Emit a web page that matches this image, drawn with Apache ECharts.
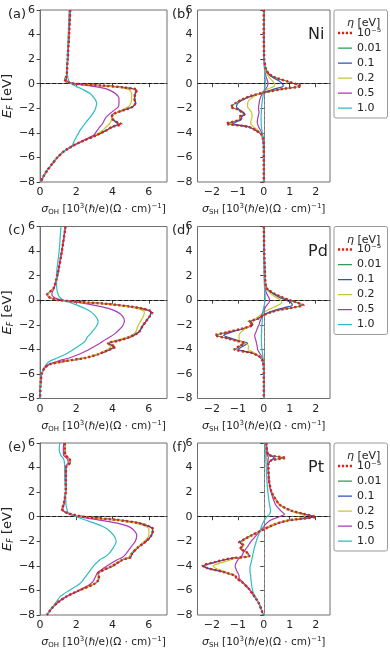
<!DOCTYPE html>
<html>
<head>
<meta charset="utf-8">
<script src="https://cdn.jsdelivr.net/npm/echarts@6/dist/echarts.min.js"></script>
<style>
  html, body { margin: 0; padding: 0; background: #fff; }
  #main { width: 390px; height: 650px; }
</style>
</head>
<body>
<div id="main"></div>
<script>
// 能量网格 (eV) 与各 η 的电导率曲线 (10^3 (ħ/e)(Ω·cm)^-1)
const etaNames = ['10⁻⁵', '0.01', '0.1', '0.2', '0.5', '1.0'];
const etaColors = ['#e0211b', '#2e9a5a', '#2a52c2', '#c7c72b', '#a83bb7', '#2fbcc4'];

// (a) Ni 轨道霍尔
const eNiOH = [6, 4, 2, 1, 0.6, 0.35, 0.15, 0, -0.15, -0.3, -0.5, -0.8, -1.2, -1.6, -1.9, -2.2, -2.5, -2.8, -3.1, -3.3, -3.5, -3.8, -4.2, -4.6, -5.0, -5.5, -6.0, -6.5, -7.0, -7.5, -8];
const niOH_1e5 = [1.66, 1.60, 1.52, 1.48, 1.45, 1.35, 1.45, 1.90, 3.40, 4.60, 5.35, 5.25, 5.20, 5.25, 5.10, 4.50, 4.00, 3.95, 4.20, 4.50, 4.00, 3.65, 3.10, 2.45, 1.88, 1.32, 0.95, 0.68, 0.42, 0.20, 0.03];
const niOH_001 = [1.66, 1.60, 1.52, 1.48, 1.45, 1.35, 1.45, 1.90, 3.40, 4.60, 5.33, 5.25, 5.20, 5.25, 5.10, 4.50, 4.00, 3.95, 4.20, 4.42, 4.00, 3.65, 3.10, 2.45, 1.88, 1.32, 0.95, 0.68, 0.42, 0.20, 0.03];
const niOH_01 = [1.66, 1.60, 1.52, 1.48, 1.45, 1.36, 1.45, 1.90, 3.35, 4.55, 5.28, 5.25, 5.22, 5.28, 5.05, 4.50, 4.00, 3.95, 4.15, 4.30, 4.00, 3.65, 3.10, 2.45, 1.88, 1.32, 0.95, 0.68, 0.42, 0.20, 0.03];
const niOH_02 = [1.66, 1.60, 1.52, 1.48, 1.45, 1.37, 1.46, 1.90, 3.25, 4.35, 4.92, 5.05, 5.05, 5.00, 4.85, 4.40, 4.05, 3.95, 3.90, 3.80, 3.65, 3.45, 3.00, 2.42, 1.86, 1.32, 0.95, 0.68, 0.42, 0.20, 0.03];
const niOH_05 = [1.65, 1.59, 1.52, 1.48, 1.47, 1.45, 1.55, 1.85, 2.70, 3.30, 3.80, 4.15, 4.35, 4.35, 4.30, 4.05, 3.80, 3.60, 3.50, 3.42, 3.30, 3.15, 2.95, 2.40, 1.86, 1.32, 0.95, 0.68, 0.42, 0.20, 0.03];
const niOH_10 = [1.60, 1.55, 1.50, 1.50, 1.52, 1.55, 1.62, 1.72, 1.90, 2.10, 2.40, 2.75, 3.00, 3.12, 3.08, 3.00, 2.88, 2.72, 2.55, 2.45, 2.35, 2.20, 2.05, 1.90, 1.78, 1.32, 0.95, 0.68, 0.42, 0.20, 0.03];

// (b) Ni 自旋霍尔
const eNiSH = [6, 4, 2, 1.2, 0.8, 0.5, 0.2, 0, -0.2, -0.4, -0.7, -1.0, -1.3, -1.6, -1.9, -2.1, -2.3, -2.5, -2.7, -2.9, -3.1, -3.25, -3.5, -3.8, -4.1, -4.5, -5, -6, -7, -8];
const niSH_1e5 = [0.00, 0.00, 0.02, 0.08, 0.20, 0.45, 0.90, 1.20, 1.45, 0.80, 0.05, -0.50, -0.85, -1.10, -1.28, -1.00, -0.85, -0.75, -0.95, -0.90, -1.20, -1.45, -0.60, -0.30, -0.10, -0.03, 0.00, 0.00, 0.00, 0.00];
const niSH_001 = [0.00, 0.00, 0.02, 0.08, 0.20, 0.45, 0.88, 1.18, 1.40, 0.80, 0.05, -0.50, -0.85, -1.10, -1.25, -1.00, -0.85, -0.75, -0.93, -0.90, -1.18, -1.40, -0.60, -0.30, -0.10, -0.03, 0.00, 0.00, 0.00, 0.00];
const niSH_01 = [0.00, 0.00, 0.02, 0.08, 0.18, 0.35, 0.60, 0.72, 0.75, 0.45, 0.00, -0.45, -0.80, -1.00, -1.05, -0.95, -0.80, -0.72, -0.85, -0.85, -1.05, -1.20, -0.60, -0.30, -0.10, -0.03, 0.00, 0.00, 0.00, 0.00];
const niSH_02 = [0.00, 0.00, 0.02, 0.06, 0.12, 0.22, 0.35, 0.42, 0.40, 0.20, -0.10, -0.35, -0.55, -0.62, -0.62, -0.55, -0.48, -0.45, -0.45, -0.48, -0.50, -0.50, -0.40, -0.22, -0.08, -0.02, 0.00, 0.00, 0.00, 0.00];
const niSH_05 = [0.00, 0.00, 0.01, 0.03, 0.06, 0.10, 0.15, 0.16, 0.14, 0.08, -0.02, -0.10, -0.15, -0.18, -0.20, -0.20, -0.18, -0.20, -0.22, -0.24, -0.25, -0.24, -0.20, -0.12, -0.05, -0.02, 0.00, 0.00, 0.00, 0.00];
const niSH_10 = [0.00, 0.01, 0.02, 0.03, 0.04, 0.05, 0.06, 0.06, 0.05, 0.03, 0.00, -0.03, -0.05, -0.07, -0.08, -0.09, -0.09, -0.10, -0.10, -0.10, -0.10, -0.10, -0.09, -0.07, -0.05, -0.03, -0.02, -0.01, 0.00, 0.00];

// (c) Pd 轨道霍尔
const ePdOH = [6, 4, 2, 1, 0.7, 0.45, 0.2, 0, -0.15, -0.3, -0.5, -0.7, -0.95, -1.3, -1.7, -2.1, -2.5, -2.7, -3.0, -3.3, -3.5, -3.8, -4.1, -4.4, -4.7, -4.95, -5.2, -5.5, -6.0, -6.5, -7, -8];
const pdOH_1e5 = [1.40, 1.20, 0.95, 0.75, 0.55, 0.38, 0.55, 1.05, 2.30, 3.70, 4.90, 5.70, 6.20, 6.05, 5.85, 5.65, 5.50, 5.35, 4.95, 4.30, 3.75, 4.15, 3.70, 3.20, 2.50, 1.40, 0.55, 0.25, 0.09, 0.04, 0.02, 0.00];
const pdOH_001 = [1.40, 1.20, 0.95, 0.75, 0.55, 0.38, 0.55, 1.05, 2.30, 3.70, 4.90, 5.70, 6.15, 6.05, 5.85, 5.65, 5.50, 5.35, 4.95, 4.30, 3.75, 4.12, 3.70, 3.20, 2.50, 1.40, 0.55, 0.25, 0.09, 0.04, 0.02, 0.00];
const pdOH_01 = [1.40, 1.20, 0.95, 0.75, 0.55, 0.39, 0.55, 1.05, 2.28, 3.65, 4.85, 5.65, 6.10, 6.05, 5.85, 5.65, 5.50, 5.35, 4.95, 4.25, 3.75, 4.05, 3.70, 3.20, 2.50, 1.40, 0.55, 0.25, 0.09, 0.04, 0.02, 0.00];
const pdOH_02 = [1.40, 1.20, 0.95, 0.75, 0.56, 0.42, 0.58, 1.05, 2.20, 3.50, 4.70, 5.45, 5.75, 5.70, 5.55, 5.40, 5.30, 5.20, 4.85, 4.10, 3.70, 3.90, 3.60, 3.15, 2.48, 1.40, 0.55, 0.25, 0.09, 0.04, 0.02, 0.00];
const pdOH_05 = [1.40, 1.20, 0.95, 0.78, 0.68, 0.65, 0.80, 1.20, 1.90, 2.60, 3.30, 3.85, 4.25, 4.55, 4.65, 4.55, 4.30, 4.15, 3.85, 3.50, 3.30, 2.95, 2.60, 2.15, 1.60, 1.00, 0.50, 0.25, 0.09, 0.04, 0.02, 0.00];
const pdOH_10 = [1.15, 1.05, 0.90, 0.92, 0.95, 1.00, 1.10, 1.30, 1.55, 1.85, 2.20, 2.50, 2.80, 3.05, 3.20, 3.12, 2.90, 2.80, 2.60, 2.50, 2.35, 2.05, 1.75, 1.40, 0.95, 0.55, 0.35, 0.22, 0.09, 0.04, 0.02, 0.00];

// (d) Pd 自旋霍尔
const ePdSH = [6, 4, 2, 1, 0.5, 0.2, 0, -0.2, -0.4, -0.6, -0.8, -1.0, -1.2, -1.5, -1.75, -2.0, -2.3, -2.6, -2.85, -3.1, -3.3, -3.5, -3.75, -4.0, -4.3, -4.6, -5, -6, -7, -8];
const pdSH_1e5 = [0.00, 0.02, 0.05, 0.10, 0.43, 0.75, 1.00, 1.30, 1.53, 1.10, 0.56, 0.25, 0.00, -0.22, -0.58, -0.42, -0.80, -1.40, -1.88, -1.40, -1.05, -0.75, -0.95, -1.13, -0.45, -0.16, -0.03, 0.00, 0.00, 0.00];
const pdSH_001 = [0.00, 0.02, 0.05, 0.10, 0.43, 0.74, 0.98, 1.28, 1.50, 1.10, 0.56, 0.25, 0.00, -0.22, -0.56, -0.42, -0.80, -1.38, -1.85, -1.40, -1.05, -0.74, -0.93, -1.10, -0.45, -0.16, -0.03, 0.00, 0.00, 0.00];
const pdSH_01 = [0.00, 0.02, 0.05, 0.10, 0.38, 0.62, 0.85, 1.05, 1.10, 0.80, 0.45, 0.18, -0.02, -0.22, -0.50, -0.42, -0.75, -1.25, -1.55, -1.25, -0.95, -0.62, -0.80, -1.00, -0.45, -0.16, -0.03, 0.00, 0.00, 0.00];
const pdSH_02 = [0.00, 0.02, 0.04, 0.08, 0.28, 0.50, 0.65, 0.70, 0.55, 0.35, 0.15, 0.00, -0.12, -0.30, -0.40, -0.50, -0.70, -0.88, -0.95, -0.95, -0.92, -0.70, -0.58, -0.60, -0.35, -0.12, -0.02, 0.00, 0.00, 0.00];
const pdSH_05 = [0.00, 0.01, 0.02, 0.04, 0.12, 0.20, 0.22, 0.20, 0.12, 0.06, 0.00, -0.04, -0.07, -0.10, -0.15, -0.18, -0.25, -0.30, -0.35, -0.33, -0.30, -0.28, -0.25, -0.24, -0.16, -0.07, -0.02, 0.00, 0.00, 0.00];
const pdSH_10 = [0.00, 0.01, 0.02, 0.03, 0.05, 0.06, 0.05, 0.04, 0.02, 0.00, -0.02, -0.03, -0.04, -0.05, -0.06, -0.07, -0.08, -0.08, -0.09, -0.09, -0.09, -0.09, -0.08, -0.07, -0.05, -0.03, -0.02, 0.00, 0.00, 0.00];

// (e) Pt 轨道霍尔
const ePtOH = [6, 5.5, 5.0, 4.7, 4.4, 4.1, 3, 2, 1, 0.6, 0.3, 0, -0.25, -0.5, -0.75, -1.0, -1.5, -2.0, -2.5, -3.0, -3.3, -3.5, -4.0, -4.3, -4.6, -4.9, -5.2, -5.5, -6.0, -6.5, -7.0, -7.5, -8];
const ptOH_1e5 = [1.36, 1.36, 1.40, 1.62, 1.66, 1.45, 1.42, 1.41, 1.30, 1.20, 1.50, 2.40, 4.20, 5.40, 5.95, 6.25, 6.15, 5.85, 5.40, 5.07, 5.00, 4.55, 4.00, 3.55, 3.20, 3.25, 3.20, 2.95, 2.15, 1.45, 0.95, 0.62, 0.37];
const ptOH_001 = [1.36, 1.36, 1.40, 1.62, 1.66, 1.45, 1.42, 1.41, 1.30, 1.20, 1.50, 2.40, 4.20, 5.40, 5.95, 6.22, 6.15, 5.85, 5.40, 5.07, 5.00, 4.55, 4.00, 3.55, 3.20, 3.25, 3.20, 2.95, 2.15, 1.45, 0.95, 0.62, 0.37];
const ptOH_01 = [1.36, 1.36, 1.40, 1.61, 1.65, 1.45, 1.42, 1.41, 1.30, 1.20, 1.50, 2.40, 4.15, 5.35, 5.92, 6.20, 6.15, 5.85, 5.40, 5.07, 4.98, 4.55, 4.00, 3.55, 3.20, 3.24, 3.20, 2.95, 2.15, 1.45, 0.95, 0.62, 0.37];
const ptOH_02 = [1.36, 1.36, 1.40, 1.60, 1.64, 1.45, 1.42, 1.41, 1.30, 1.21, 1.50, 2.35, 4.00, 5.20, 5.75, 6.00, 6.00, 5.75, 5.35, 5.00, 4.90, 4.50, 3.95, 3.50, 3.18, 3.20, 3.15, 2.92, 2.15, 1.45, 0.95, 0.62, 0.37];
const ptOH_05 = [1.30, 1.28, 1.30, 1.50, 1.55, 1.42, 1.42, 1.41, 1.32, 1.25, 1.45, 2.10, 3.20, 4.20, 4.80, 5.10, 5.33, 5.25, 5.00, 4.75, 4.55, 4.25, 3.70, 3.40, 3.15, 3.05, 2.95, 2.75, 2.15, 1.45, 0.95, 0.62, 0.37];
const ptOH_10 = [1.09, 1.05, 1.14, 1.30, 1.34, 1.35, 1.36, 1.40, 1.43, 1.48, 1.56, 2.00, 2.45, 2.95, 3.40, 3.70, 4.05, 4.20, 4.05, 3.80, 3.55, 3.30, 2.95, 2.80, 2.65, 2.50, 2.35, 2.15, 1.60, 1.10, 0.87, 0.60, 0.37];

// (f) Pt 自旋霍尔
const ePtSH = [6, 5.3, 5.0, 4.8, 4.6, 4.3, 3, 2, 1, 0.5, 0.2, 0, -0.3, -0.6, -1.0, -1.5, -1.8, -2.1, -2.3, -2.6, -2.9, -3.2, -3.4, -3.7, -4.0, -4.2, -4.5, -4.8, -5.0, -5.3, -5.8, -6.3, -7, -7.5, -8];
const ptSH_1e5 = [0.10, 0.13, 0.20, 0.85, 0.30, 0.18, 0.20, 0.30, 0.60, 1.05, 1.60, 2.00, 0.95, 0.45, 0.03, -0.45, -0.72, -0.95, -0.80, -0.90, -0.65, -0.55, -1.30, -1.90, -2.35, -2.15, -1.55, -1.10, -1.05, -0.85, -0.60, -0.42, -0.20, -0.10, -0.02];
const ptSH_001 = [0.10, 0.13, 0.20, 0.78, 0.30, 0.18, 0.20, 0.30, 0.60, 1.05, 1.58, 1.98, 0.95, 0.45, 0.03, -0.45, -0.72, -0.93, -0.80, -0.90, -0.65, -0.55, -1.28, -1.88, -2.32, -2.15, -1.55, -1.10, -1.05, -0.85, -0.60, -0.42, -0.20, -0.10, -0.02];
const ptSH_01 = [0.10, 0.13, 0.25, 0.40, 0.28, 0.18, 0.20, 0.30, 0.60, 1.04, 1.55, 1.95, 0.95, 0.45, 0.03, -0.45, -0.70, -0.92, -0.80, -0.88, -0.65, -0.55, -1.25, -1.85, -2.35, -2.15, -1.55, -1.10, -1.05, -0.85, -0.60, -0.42, -0.20, -0.10, -0.02];
const ptSH_02 = [0.10, 0.12, 0.10, 0.08, 0.15, 0.17, 0.20, 0.30, 0.58, 1.00, 1.45, 1.62, 0.90, 0.40, 0.00, -0.42, -0.68, -0.85, -0.75, -0.85, -0.68, -0.60, -1.10, -1.55, -1.95, -1.85, -1.45, -1.10, -1.05, -0.85, -0.60, -0.42, -0.20, -0.10, -0.02];
const ptSH_05 = [0.10, 0.12, 0.14, 0.18, 0.16, 0.16, 0.20, 0.28, 0.45, 0.65, 0.80, 0.60, 0.25, 0.08, -0.08, -0.28, -0.40, -0.52, -0.58, -0.68, -0.78, -0.85, -0.95, -1.05, -1.10, -1.08, -1.02, -0.95, -0.95, -0.82, -0.60, -0.42, -0.20, -0.10, -0.02];
const ptSH_10 = [0.05, 0.06, 0.08, 0.08, 0.08, 0.09, 0.12, 0.16, 0.22, 0.26, 0.22, 0.12, 0.02, -0.05, -0.12, -0.20, -0.26, -0.30, -0.33, -0.37, -0.40, -0.43, -0.45, -0.48, -0.52, -0.53, -0.53, -0.50, -0.50, -0.48, -0.45, -0.38, -0.20, -0.10, -0.03];

const panels = [
  { e: eNiOH, vals: [niOH_1e5, niOH_001, niOH_01, niOH_02, niOH_05, niOH_10], sh: false, tag: '(a)' },
  { e: eNiSH, vals: [niSH_1e5, niSH_001, niSH_01, niSH_02, niSH_05, niSH_10], sh: true, tag: '(b)', metal: 'Ni' },
  { e: ePdOH, vals: [pdOH_1e5, pdOH_001, pdOH_01, pdOH_02, pdOH_05, pdOH_10], sh: false, tag: '(c)' },
  { e: ePdSH, vals: [pdSH_1e5, pdSH_001, pdSH_01, pdSH_02, pdSH_05, pdSH_10], sh: true, tag: '(d)', metal: 'Pd' },
  { e: ePtOH, vals: [ptOH_1e5, ptOH_001, ptOH_01, ptOH_02, ptOH_05, ptOH_10], sh: false, tag: '(e)' },
  { e: ePtSH, vals: [ptSH_1e5, ptSH_001, ptSH_01, ptSH_02, ptSH_05, ptSH_10], sh: true, tag: '(f)', metal: 'Pt' }
];

const FONT = 'DejaVu Sans';
const rowTop = [10, 226.5, 443];
const minus = v => String(v).replace('-', '\u2212');

// 图例图标：细实线 / 红色点线（外加一条几乎不可见的竖线撑开包围盒）
const solidIcon = 'path://M0,0h0.01v12h-0.01z M0,5.4h14v1.3h-14z';
const dotIcon = 'path://M0,0h0.01v12h-0.01z M0,4.8h2.2v2.4h-2.2z M3.9,4.8h2.2v2.4h-2.2z M7.8,4.8h2.2v2.4h-2.2z M11.8,4.8h2.2v2.4h-2.2z';

const grids = [], xAxes = [], yAxes = [], series = [], titles = [], legends = [];

panels.forEach((p, i) => {
  const col = i % 2, row = Math.floor(i / 2);
  const left = col === 0 ? 34 : 197.5;
  grids.push({ left, top: rowTop[row], width: col === 0 ? 133 : 132.5, height: 172,
    show: true, borderColor: '#6f6f6f', borderWidth: 1, containLabel: false });

  const ticks = p.sh ? [-2, -1, 0, 1, 2] : [0, 2, 4, 6];
  xAxes.push({
    type: 'value', gridIndex: i,
    min: p.sh ? -2.55 : 0, max: p.sh ? 2.55 : 7,
    axisLine: { show: true, lineStyle: { color: '#6f6f6f' } },
    axisTick: { show: true, length: 3.5, customValues: ticks, lineStyle: { color: '#444' } },
    axisLabel: { customValues: ticks, formatter: minus, fontFamily: FONT, fontSize: 11, color: '#222', margin: 5 },
    splitLine: { show: false },
    name: (p.sh ? '{g|σ}{s|SH}' : '{g|σ}{s|OH}') + ' [10{p|3}(ℏ/e)(Ω · cm){p|−1}]',
    nameLocation: 'middle', nameGap: 21,
    nameTextStyle: {
      fontFamily: FONT, fontSize: 10.5, color: '#222',
      rich: {
        g: { fontFamily: FONT, fontSize: 11, fontStyle: 'italic', color: '#222' },
        s: { fontFamily: FONT, fontSize: 7, color: '#222', padding: [6, 0, 0, 0] },
        p: { fontFamily: FONT, fontSize: 7, color: '#222', padding: [0, 0, 6, 0] }
      }
    }
  });

  yAxes.push({
    type: 'value', gridIndex: i, min: -8, max: 6, interval: 2,
    axisLine: { show: true, lineStyle: { color: '#6f6f6f' } },
    axisTick: { show: true, length: 3.5, lineStyle: { color: '#444' } },
    axisLabel: { formatter: minus, fontFamily: FONT, fontSize: 11, color: '#222', margin: 5 },
    splitLine: { show: false },
    name: col === 0 ? '{i|E}{s|F} [eV]' : '',
    nameLocation: 'middle', nameRotate: 90, nameGap: 24,
    nameTextStyle: {
      fontFamily: FONT, fontSize: 13, color: '#222',
      rich: {
        i: { fontFamily: FONT, fontSize: 13, fontStyle: 'italic', color: '#222' },
        s: { fontFamily: FONT, fontSize: 8, fontStyle: 'italic', color: '#222', padding: [7, 0, 0, 0] }
      }
    }
  });

  // 绘制顺序：先实线，最后红色点线
  const order = [1, 2, 3, 4, 5, 0];
  order.forEach((k, n) => {
    const s = {
      name: etaNames[k], type: 'line', xAxisIndex: i, yAxisIndex: i,
      data: p.e.map((ev, j) => [p.vals[k][j], ev]),
      symbol: 'none', smooth: 0.2, animation: false, z: 2 + n,
      lineStyle: k === 0
        ? { color: etaColors[k], width: 2.4, type: [2.2, 2.2] }
        : { color: etaColors[k], width: 1.2 },
      itemStyle: { color: etaColors[k] }
    };
    if (n === 0) {
      const ml = [{ yAxis: 0, lineStyle: { color: '#1a1a1a', type: [4, 2], width: 1 } }];
      if (p.sh) ml.push({ xAxis: 0, lineStyle: { color: '#8a8a8a', type: [3, 2], width: 1 } });
      s.markLine = { silent: true, symbol: ['none', 'none'], label: { show: false }, animation: false, data: ml };
    }
    series.push(s);
  });

  titles.push({ text: p.tag, left: col === 0 ? 3 : 167, top: rowTop[row] - 7,
    textStyle: { fontFamily: FONT, fontSize: 13, fontWeight: 'normal', color: '#222' } });

  if (p.sh) {
    titles.push({ text: p.metal, left: 303, top: rowTop[row] + 12,
      textStyle: { fontFamily: FONT, fontSize: 16, fontWeight: 'normal', color: '#222' } });
    titles.push({ text: '{i|η} [eV]', left: 342, top: rowTop[row] + 3,
      textStyle: { fontFamily: FONT, fontSize: 11, fontWeight: 'normal', color: '#222',
        rich: { i: { fontFamily: FONT, fontSize: 11, fontStyle: 'italic', color: '#222' } } } });
    legends.push({
      data: etaNames.map((n, k) => ({ name: n, icon: k === 0 ? dotIcon : solidIcon,
        itemStyle: { color: etaColors[k], borderWidth: 0 } })),
      orient: 'vertical', left: 334, top: rowTop[row],
      padding: [17, 6, 4, 4], itemGap: 3, itemWidth: 14, itemHeight: 12,
      borderColor: '#9a9a9a', borderWidth: 1, borderRadius: 2, selectedMode: false,
      textStyle: { fontFamily: FONT, fontSize: 11, color: '#222', lineHeight: 12 }
    });
  }
});

const myChart = echarts.init(document.getElementById('main'), null, { renderer: 'canvas' });
myChart.setOption({
  backgroundColor: '#ffffff',
  animation: false,
  title: titles,
  legend: legends,
  grid: grids,
  xAxis: xAxes,
  yAxis: yAxes,
  series
});
</script>
</body>
</html>
